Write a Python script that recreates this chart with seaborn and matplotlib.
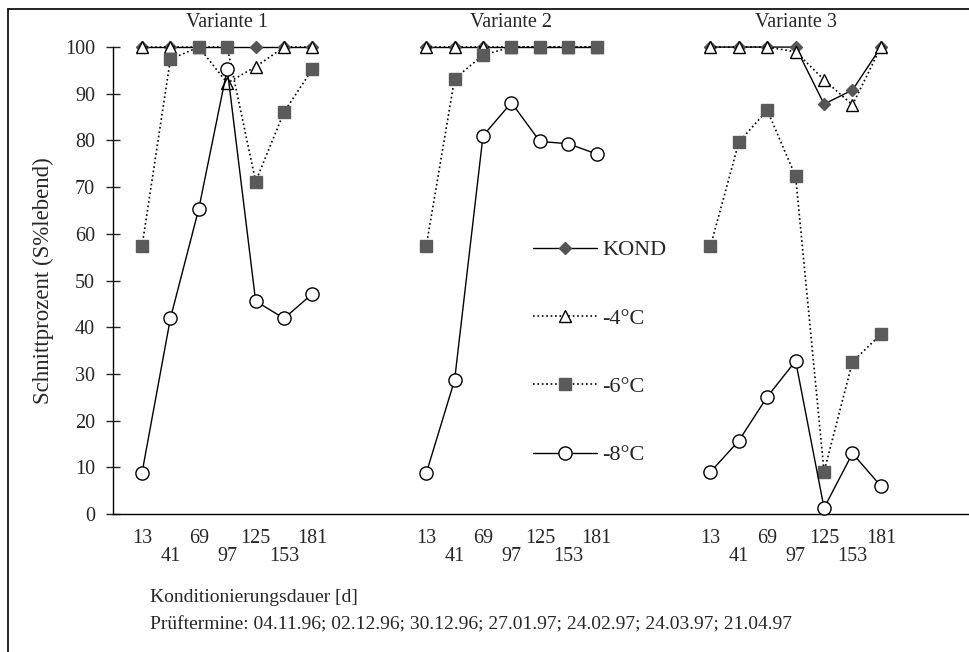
"""Schnittprozent nach Konditionierungsdauer, drei Varianten nebeneinander."""

import matplotlib
matplotlib.use("Agg")
import pandas as pd
import seaborn as sns
from matplotlib import pyplot as plt

days = [13, 41, 69, 97, 125, 153, 181]
variants = ["Variante 1", "Variante 2", "Variante 3"]
treatments = ["KOND", "-4°C", "-6°C", "-8°C"]

# values per treatment, one list per Variante
kond = [
    [100, 100, 100, 100, 100, 100, 100],
    [100, 100, 100, 100, 100, 100, 100],
    [100, 100, 100, 100, 87.8, 90.8, 100],
]
minus4 = [
    [100, 100, 100, 92.3, 95.8, 100, 100],
    [100, 100, 100, 100, 100, 100, 100],
    [100, 100, 100, 99.0, 93.0, 87.6, 100],
]
minus6 = [
    [57.3, 97.4, 100, 100, 71.2, 86.1, 95.3],
    [57.3, 93.2, 98.3, 100, 100, 100, 100],
    [57.3, 79.6, 86.5, 72.3, 9.1, 32.6, 38.5],
]
minus8 = [
    [8.8, 41.9, 65.4, 95.3, 45.6, 41.9, 47.2],
    [8.7, 28.7, 81.0, 88.1, 79.8, 79.3, 77.1],
    [9.0, 15.7, 25.1, 32.8, 1.3, 13.0, 6.0],
]

GAP = 10  # x-distance between the variant blocks

rows = []
for name, series in zip(treatments, [kond, minus4, minus6, minus8]):
    for v, vals in enumerate(series):
        for i, (d, val) in enumerate(zip(days, vals)):
            rows.append({"treatment": name, "variant": variants[v], "day": d,
                         "pos": i + GAP * v, "value": val})
df = pd.DataFrame(rows)

styles = {
    "KOND": dict(marker="D", ms=6, mfc="#555555", mec="#555555", ls="-", lw=1.0),
    "-4°C": dict(marker="^", ms=9, mfc="white", mec="black", ls=":", lw=1.2),
    "-6°C": dict(marker="s", ms=8, mfc="#5a5a5a", mec="#5a5a5a", ls=":", lw=1.2),
    "-8°C": dict(marker="o", ms=9.5, mfc="white", mec="black", ls="-", lw=1.0),
}

sns.set_style("white")
plt.rcParams["font.family"] = ["Liberation Serif", "DejaVu Serif"]
FS = 14.5

fig = plt.figure(figsize=(9.69, 6.52), dpi=100)
ax = fig.add_axes([0.1166, 0.2115, 0.8834, 0.7163])

for name in treatments:
    st = styles[name]
    sns.lineplot(data=df[df["treatment"] == name], x="pos", y="value", units="variant",
                 estimator=None, color="black", lw=st["lw"], marker=st["marker"],
                 markersize=st["ms"], markerfacecolor=st["mfc"], markeredgecolor=st["mec"],
                 markeredgewidth=1.0, linestyle=st["ls"], label=name, ax=ax, legend=False,
                 clip_on=False, zorder=3)

ax.set_xlim(-1.02, 29.1)
ax.set_ylim(0, 100)
ax.set_yticks(range(0, 101, 10))
ax.tick_params(axis="y", direction="inout", length=10, width=1, pad=8, labelsize=FS, left=True)

positions = [i + GAP * v for v in range(len(variants)) for i in range(len(days))]
labels = [str(d) if i % 2 == 0 else "\n" + str(d) for v in range(len(variants)) for i, d in enumerate(days)]
ax.set_xticks(positions)
ax.set_xticklabels(labels)
ax.tick_params(axis="x", length=0, pad=11, labelsize=FS)
for lbl in ax.get_xticklabels():
    lbl.set_linespacing(0.9)

sns.despine(ax=ax, top=True, right=True)
for side in ("left", "bottom"):
    ax.spines[side].set_color("black")
    ax.spines[side].set_linewidth(1.0)

ax.set_xlabel("")
ax.set_ylabel("Schnittprozent (S%lebend)", fontsize=16.5, labelpad=8)

for v, title in enumerate(variants):
    ax.text(3 + GAP * v, 105.2, title, ha="center", va="center", fontsize=FS, clip_on=False)

handles, names = ax.get_legend_handles_labels()
uniq = dict(zip(names, handles))
ax.legend([uniq[t] for t in treatments], treatments, loc="center left",
          bbox_to_anchor=(0.467, 0.346), frameon=False, fontsize=16,
          handlelength=2.9, handletextpad=0.23, labelspacing=2.15)

fig.text(150 / 969, 1 - 598 / 652, "Konditionierungsdauer [d]", fontsize=14, va="center")
fig.text(150 / 969, 1 - 625 / 652,
         "Prüftermine: 04.11.96; 02.12.96; 30.12.96; 27.01.97; 24.02.97; 24.03.97; 21.04.97",
         fontsize=14, va="center")

# outer frame (top and left edges visible in the original)
fig.add_artist(plt.Line2D([8 / 969, 1], [1 - 9 / 652, 1 - 9 / 652], color="black", lw=1.2))
fig.add_artist(plt.Line2D([8 / 969, 8 / 969], [0, 1 - 9 / 652], color="black", lw=1.2))

fig.savefig("out.png", dpi=100)
